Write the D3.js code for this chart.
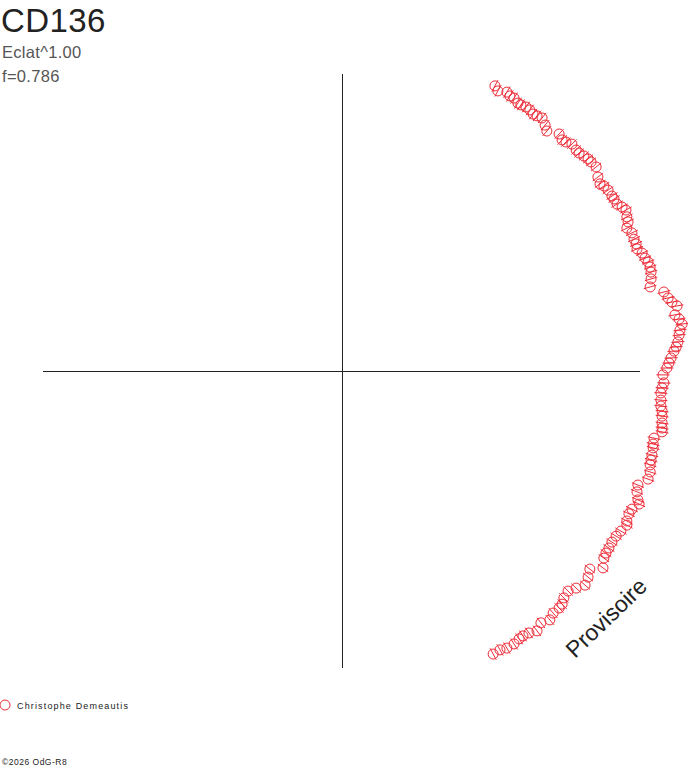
<!DOCTYPE html>
<html>
<head>
<meta charset="utf-8">
<script src="https://cdn.jsdelivr.net/npm/d3@7"></script>
<style>
html,body{margin:0;padding:0;background:#fff;}
svg{display:block;font-family:"Liberation Sans",Arial,sans-serif;}
</style>
</head>
<body>
<svg id="chart" width="688" height="768"></svg>
<script>
// Relative positions of the companion (data units, axis half-length = 1)
const obsX = [0.514,0.524,0.554,0.564,0.578,0.591,0.601,0.618,0.631,0.642,0.655,0.672,0.682,0.688,0.729,0.739,0.752,0.772,0.786,0.796,
0.812,0.826,0.836,0.853,0.859,0.866,0.879,0.893,0.906,0.913,0.923,0.940,0.953,0.956,0.960,0.956,0.973,0.980,0.987,0.990,
1.007,1.017,1.027,1.034,1.037,1.037,1.034,1.080,1.094,1.107,1.124,1.117,1.131,1.141,1.134,1.131,1.127,1.121,1.114,1.104,
1.097,1.090,1.077,1.080,1.074,1.070,1.070,1.070,1.074,1.074,1.074,1.074,1.074,1.047,1.044,1.044,1.040,1.037,1.034,1.034,
1.027,0.993,0.990,0.993,0.997,0.973,0.963,0.956,0.956,0.936,0.920,0.906,0.896,0.886,0.879,0.876,0.832,0.826,0.816,0.786,
0.759,0.745,0.739,0.729,0.709,0.698,0.668,0.655,0.628,0.608,0.595,0.578,0.554,0.531,0.508];
const obsY = [0.960,0.943,0.939,0.926,0.919,0.902,0.896,0.889,0.879,0.865,0.859,0.852,0.828,0.808,0.798,0.778,0.771,0.764,0.744,0.734,
0.724,0.714,0.704,0.687,0.653,0.630,0.623,0.609,0.589,0.579,0.562,0.552,0.542,0.519,0.502,0.481,0.465,0.444,0.428,0.411,
0.397,0.380,0.367,0.350,0.333,0.310,0.283,0.266,0.246,0.232,0.219,0.189,0.175,0.158,0.138,0.121,0.098,0.081,0.067,0.044,
0.027,0.010,-0.013,-0.040,-0.057,-0.074,-0.098,-0.118,-0.135,-0.152,-0.175,-0.192,-0.205,-0.226,-0.246,-0.259,-0.283,-0.300,-0.316,-0.340,
-0.364,-0.384,-0.407,-0.434,-0.448,-0.465,-0.481,-0.505,-0.519,-0.539,-0.556,-0.576,-0.596,-0.613,-0.630,-0.663,-0.667,-0.694,-0.721,-0.731,
-0.741,-0.764,-0.785,-0.798,-0.815,-0.838,-0.848,-0.875,-0.882,-0.892,-0.902,-0.919,-0.933,-0.939,-0.953];

const title = "CD136";
const subtitle1 = "Eclat^1.00";
const subtitle2 = "f=0.786";
const observer = "Christophe Demeautis";
const stamp = "Provisoire";
const copyright = "\u00A92026 OdG-R8";

const red = "#ec2c38";
const svg = d3.select("#chart");
const x = d3.scaleLinear().domain([-1, 1]).range([43, 640]);
const y = d3.scaleLinear().domain([-1, 1]).range([668, 74]);

// axes
const ax = svg.append("g").attr("shape-rendering", "crispEdges");
ax.append("line").attr("x1", Math.round(x(0)) + 0.5).attr("x2", Math.round(x(0)) + 0.5).attr("y1", y(1)).attr("y2", y(-1))
  .attr("stroke", "#222").attr("stroke-width", 1);
ax.append("line").attr("x1", x(-1)).attr("x2", x(1)).attr("y1", Math.round(y(0)) + 0.5).attr("y2", Math.round(y(0)) + 0.5)
  .attr("stroke", "#222").attr("stroke-width", 1);

const pts = obsX.map((v, i) => ({x: v, y: obsY[i]}));

const g = svg.append("g");
// radial ticks
g.selectAll("line.tick").data(pts).join("line").attr("class", "tick")
  .each(function(d) {
    const px = x(d.x), py = y(d.y);
    const dx = px - x(0), dy = py - y(0);
    const L = Math.hypot(dx, dy) || 1;
    const h = 6.5;
    d3.select(this)
      .attr("x1", px - dx / L * h).attr("y1", py - dy / L * h)
      .attr("x2", px + dx / L * h).attr("y2", py + dy / L * h);
  })
  .attr("stroke", red).attr("stroke-width", 1);
g.selectAll("circle").data(pts).join("circle")
  .attr("cx", d => x(d.x)).attr("cy", d => y(d.y)).attr("r", 5)
  .attr("fill", "none").attr("stroke", red).attr("stroke-width", 1);

// titles
svg.append("text").attr("x", 1).attr("y", 32).attr("font-size", 33).attr("letter-spacing", 0.4).attr("fill", "#222").text(title);
svg.append("text").attr("x", 2).attr("y", 58).attr("font-size", 16.5).attr("letter-spacing", 0.3).attr("fill", "#555").text(subtitle1);
svg.append("text").attr("x", 2).attr("y", 82).attr("font-size", 16.5).attr("letter-spacing", 0.3).attr("fill", "#555").text(subtitle2);

// stamp
svg.append("text").attr("transform", "translate(575,659) rotate(-44)")
  .attr("font-size", 23).attr("fill", "#222").text(stamp);

// legend
svg.append("circle").attr("cx", 5).attr("cy", 705).attr("r", 5)
  .attr("fill", "none").attr("stroke", red).attr("stroke-width", 1);
svg.append("text").attr("x", 17).attr("y", 709).attr("font-size", 9).attr("letter-spacing", 1.15)
  .attr("fill", "#222").text(observer);

svg.append("text").attr("x", 2).attr("y", 765).attr("font-size", 8.5).attr("letter-spacing", 0.5).attr("fill", "#222").text(copyright);
</script>
</body>
</html>
